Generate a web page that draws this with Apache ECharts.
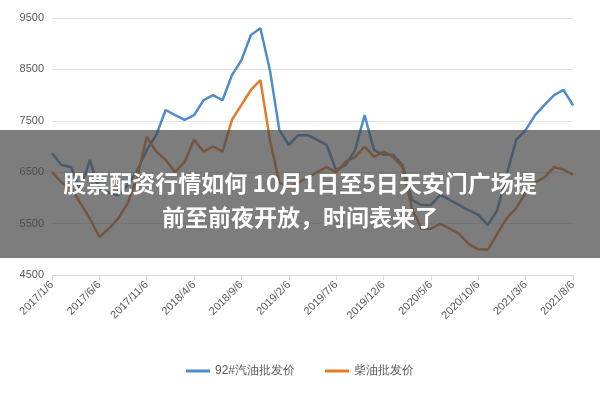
<!DOCTYPE html><html><head><meta charset="utf-8"><script src="https://cdn.jsdelivr.net/npm/echarts@6/dist/echarts.min.js"></script></head><body style="margin:0"><div id="c" style="width:600px;height:400px"></div><script>
const months=[];for(let y=2017;y<=2021;y++)for(let m=1;m<=12;m++){if(y===2021&&m>8)break;months.push(y+'/'+m+'/6');}
const gasoline=[6870,6640,6600,6150,6740,6150,6100,6050,6250,6540,6930,7220,7710,7610,7520,7610,7900,8000,7900,8390,8680,9170,9300,8490,7320,7030,7220,7220,7130,7030,6540,6640,6930,7610,6930,6840,6840,6640,5960,5860,5860,6060,5960,5860,5760,5670,5470,5760,6450,7130,7320,7610,7810,8000,8100,7800];
const diesel=[6500,6300,6200,5900,5600,5240,5400,5600,5900,6400,7190,6900,6740,6500,6700,7130,6900,7000,6900,7520,7810,8100,8290,7130,6300,6200,6300,6400,6500,6600,6500,6700,6800,7000,6800,6900,6800,6600,5800,5400,5400,5500,5400,5300,5100,5000,4990,5300,5600,5800,6100,6300,6400,6600,6550,6450];
const yTicks=[4500,5500,6500,7500,8500,9500];
const c=echarts.init(document.getElementById('c'));
c.setOption({backgroundColor:'#fff',animation:false,
grid:{left:52,right:27,top:18,bottom:125},
xAxis:{type:'category',data:months,boundaryGap:false,axisLine:{lineStyle:{color:'#d9d9d9'}},axisTick:{show:true,interval:4,alignWithLabel:true,lineStyle:{color:'#d9d9d9'}},axisLabel:{interval:4,rotate:45,color:'#595959',fontSize:11,fontFamily:'Liberation Sans'}},
yAxis:{type:'value',min:yTicks[0],max:yTicks[5],interval:1000,axisLine:{show:false},axisTick:{show:false},splitLine:{lineStyle:{color:'#e4e4e4'}},axisLabel:{color:'#595959',fontSize:11,formatter:v=>String(v)}},
legend:{bottom:18,itemWidth:24,itemHeight:3,icon:'rect',itemGap:30,textStyle:{color:'#595959',fontSize:12}},
series:[{name:'92#汽油批发价',type:'line',data:gasoline,showSymbol:false,lineStyle:{width:2.5,color:'#4f8cc9'},itemStyle:{color:'#4f8cc9'}},
{name:'柴油批发价',type:'line',data:diesel,showSymbol:false,lineStyle:{width:2.5,color:'#e27c2c'},itemStyle:{color:'#e27c2c'}}],
graphic:[{type:'rect',left:0,top:130,shape:{width:600,height:128},style:{fill:'rgba(70,70,70,0.7)'},z:100},
{type:'text',z:101,style:{x:300,y:166,text:'股票配资行情如何 10月1日至5日天安门广场提\n前至前夜开放，时间表来了',fill:'#fff',font:'bold 23px "Noto Sans CJK SC"',align:'center',textAlign:'center',lineHeight:34}}]
});
</script></body></html>
